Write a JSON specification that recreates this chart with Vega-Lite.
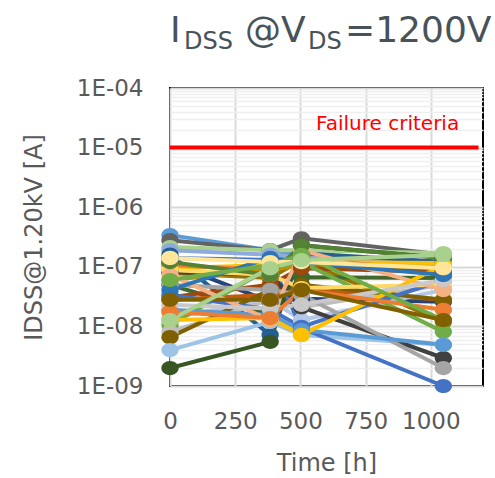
{
  "$schema": "https://vega.github.io/schema/vega-lite/v6.json",
  "autosize": "none",
  "width": 313,
  "height": 298,
  "padding": {"left": 170, "top": 88, "right": 12, "bottom": 92},
  "background": "white",
  "config": {
    "view": {"stroke": "#000000", "strokeWidth": 2},
    "font": "DejaVu Sans"
  },
  "data": {"values": [
    {"s":"S01","t":0,"v":3.4e-7},{"s":"S01","t":384,"v":1.9e-7},{"s":"S01","t":504,"v":1.6e-7},{"s":"S01","t":1048,"v":1.2e-7},
    {"s":"S02","t":0,"v":2.8e-7},{"s":"S02","t":384,"v":1.9e-7},{"s":"S02","t":504,"v":3.0e-7},{"s":"S02","t":1048,"v":1.6e-7},
    {"s":"S03","t":0,"v":2.15e-7},{"s":"S03","t":384,"v":1.9e-7},{"s":"S03","t":504,"v":1.9e-7},{"s":"S03","t":1048,"v":1.7e-7},
    {"s":"S04","t":0,"v":1.9e-7},{"s":"S04","t":384,"v":1.6e-7},{"s":"S04","t":504,"v":1.46e-7},{"s":"S04","t":1048,"v":1.07e-7},
    {"s":"S05","t":0,"v":1.6e-7},{"s":"S05","t":384,"v":7.2e-9},{"s":"S05","t":504,"v":1.7e-7},{"s":"S05","t":1048,"v":1.2e-7},
    {"s":"S06","t":0,"v":1.16e-7},{"s":"S06","t":384,"v":2.6e-8},{"s":"S06","t":504,"v":2.9e-8},{"s":"S06","t":1048,"v":2.6e-8},
    {"s":"S07","t":0,"v":9.5e-8},{"s":"S07","t":384,"v":1.07e-7},{"s":"S07","t":504,"v":1.2e-7},{"s":"S07","t":1048,"v":1.16e-7},
    {"s":"S08","t":0,"v":1.07e-7},{"s":"S08","t":384,"v":8.8e-8},{"s":"S08","t":504,"v":1.41e-7},{"s":"S08","t":1048,"v":8.2e-8},
    {"s":"S09","t":0,"v":7.9e-8},{"s":"S09","t":384,"v":6.5e-8},{"s":"S09","t":504,"v":1.3e-7},{"s":"S09","t":1048,"v":1.19e-8},
    {"s":"S10","t":0,"v":6.0e-8},{"s":"S10","t":384,"v":8.8e-8},{"s":"S10","t":504,"v":1.07e-7},{"s":"S10","t":1048,"v":8.8e-8},
    {"s":"S11","t":0,"v":5.0e-8},{"s":"S11","t":384,"v":1.55e-8},{"s":"S11","t":504,"v":6.7e-8},{"s":"S11","t":1048,"v":6.5e-8},
    {"s":"S12","t":0,"v":3.1e-8},{"s":"S12","t":384,"v":5.0e-8},{"s":"S12","t":504,"v":9.5e-8},{"s":"S12","t":1048,"v":8.2e-8},
    {"s":"S13","t":0,"v":2.8e-8},{"s":"S13","t":384,"v":3.4e-8},{"s":"S13","t":504,"v":4.1e-8},{"s":"S13","t":1048,"v":2.8e-8},
    {"s":"S14","t":0,"v":1.38e-8},{"s":"S14","t":384,"v":2.8e-8},{"s":"S14","t":504,"v":1.28e-8},{"s":"S14","t":1048,"v":4.1e-8},
    {"s":"S15","t":0,"v":1.06e-8},{"s":"S15","t":384,"v":9.5e-8},{"s":"S15","t":504,"v":1.2e-7},{"s":"S15","t":1048,"v":8.1e-9},
    {"s":"S16","t":0,"v":8.1e-9},{"s":"S16","t":384,"v":2.8e-8},{"s":"S16","t":504,"v":2.1e-8},{"s":"S16","t":1048,"v":5.0e-8},
    {"s":"S17","t":0,"v":6.6e-9},{"s":"S17","t":384,"v":4.1e-8},{"s":"S17","t":504,"v":5.0e-8},{"s":"S17","t":1048,"v":2.8e-8},
    {"s":"S18","t":0,"v":4.0e-9},{"s":"S18","t":384,"v":1.19e-8},{"s":"S18","t":504,"v":7.2e-9},{"s":"S18","t":1048,"v":4.9e-9},
    {"s":"S19","t":0,"v":2.0e-9},{"s":"S19","t":384,"v":5.5e-9},{"s":"S19","t":504,"v":2.3e-7},{"s":"S19","t":1048,"v":1.41e-7},
    {"s":"S20","t":0,"v":1.41e-7},{"s":"S20","t":384,"v":1.3e-7},{"s":"S20","t":504,"v":9.4e-9},{"s":"S20","t":1048,"v":1.0e-9},
    {"s":"S21","t":0,"v":3.4e-8},{"s":"S21","t":384,"v":1.9e-8},{"s":"S21","t":504,"v":9.8e-9},{"s":"S21","t":1048,"v":6.0e-8},
    {"s":"S22","t":0,"v":8.2e-8},{"s":"S22","t":384,"v":7.3e-8},{"s":"S22","t":504,"v":2.1e-8},{"s":"S22","t":1048,"v":2.95e-9},
    {"s":"S23","t":0,"v":5.0e-8},{"s":"S23","t":384,"v":4.1e-8},{"s":"S23","t":504,"v":3.4e-8},{"s":"S23","t":1048,"v":2.0e-9},
    {"s":"S24","t":0,"v":1.9e-8},{"s":"S24","t":384,"v":1.55e-8},{"s":"S24","t":504,"v":8.7e-9},{"s":"S24","t":1048,"v":4.9e-9},
    {"s":"S25","t":0,"v":8.8e-8},{"s":"S25","t":384,"v":7.3e-8},{"s":"S25","t":504,"v":4.4e-8},{"s":"S25","t":1048,"v":5.0e-8},
    {"s":"S26","t":0,"v":7.3e-8},{"s":"S26","t":384,"v":1.28e-8},{"s":"S26","t":504,"v":1.9e-7},{"s":"S26","t":1048,"v":4.1e-8},
    {"s":"S27","t":0,"v":1.2e-7},{"s":"S27","t":384,"v":7.3e-8},{"s":"S27","t":504,"v":2.3e-7},{"s":"S27","t":1048,"v":1.41e-7},
    {"s":"S28","t":0,"v":1.28e-8},{"s":"S28","t":384,"v":1.38e-8},{"s":"S28","t":504,"v":7.2e-9},{"s":"S28","t":1048,"v":1.07e-7},
    {"s":"S29","t":0,"v":2.3e-8},{"s":"S29","t":384,"v":2.0e-8},{"s":"S29","t":504,"v":2.3e-8},{"s":"S29","t":1048,"v":6.0e-8},
    {"s":"S30","t":0,"v":4.1e-8},{"s":"S30","t":384,"v":1.41e-7},{"s":"S30","t":504,"v":1.2e-7},{"s":"S30","t":1048,"v":7.3e-8},
    {"s":"S31","t":0,"v":1.75e-8},{"s":"S31","t":384,"v":1.38e-8},{"s":"S31","t":504,"v":4.1e-8},{"s":"S31","t":1048,"v":1.9e-8},
    {"s":"S32","t":0,"v":6.0e-8},{"s":"S32","t":384,"v":1.07e-7},{"s":"S32","t":504,"v":1.58e-7},{"s":"S32","t":1048,"v":1.28e-8},
    {"s":"S33","t":0,"v":2.8e-8},{"s":"S33","t":384,"v":2.8e-8},{"s":"S33","t":504,"v":4.1e-8},{"s":"S33","t":1048,"v":1.28e-8},
    {"s":"S34","t":0,"v":1.41e-7},{"s":"S34","t":384,"v":1.2e-7},{"s":"S34","t":504,"v":1.2e-7},{"s":"S34","t":1048,"v":9.5e-8},
    {"s":"S35","t":0,"v":1.28e-8},{"s":"S35","t":384,"v":9.5e-8},{"s":"S35","t":504,"v":1.3e-7},{"s":"S35","t":1048,"v":1.58e-7}
  ]},
  "layer": [
    {
      "mark": {
        "type": "line",
        "strokeWidth": 4,
        "point": {"filled": true, "opacity": 1, "size": 300, "shape": "M -1 0 A 1 0.82 0 1 1 1 0 A 1 0.82 0 1 1 -1 0 Z"}
      },
      "encoding": {
        "x": {
          "field": "t", "type": "quantitative",
          "scale": {"domain": [0, 1200], "nice": false},
          "axis": {
            "values": [0, 250, 500, 750, 1000],
            "format": "d",
            "title": "Time [h]",
            "grid": true, "gridColor": "#d9d9d9", "gridWidth": 2,
            "ticks": false, "domain": false,
            "labelFlush": false, "labelOverlap": false,
            "labelFont": "DejaVu Sans", "labelFontSize": 23, "labelColor": "#595959", "labelPadding": 24,
            "titleFont": "DejaVu Sans", "titleFontSize": 24, "titleFontWeight": "normal", "titleColor": "#595959", "titlePadding": 18
          }
        },
        "y": {
          "field": "v", "type": "quantitative",
          "scale": {"type": "log", "domain": [1e-9, 0.0001], "nice": false},
          "axis": {
            "values": [1e-9,2e-9,3e-9,4e-9,5e-9,6e-9,7e-9,8e-9,9e-9,1e-8,2e-8,3e-8,4e-8,5e-8,6e-8,7e-8,8e-8,9e-8,1e-7,2e-7,3e-7,4e-7,5e-7,6e-7,7e-7,8e-7,9e-7,1e-6,2e-6,3e-6,4e-6,5e-6,6e-6,7e-6,8e-6,9e-6,1e-5,2e-5,3e-5,4e-5,5e-5,6e-5,7e-5,8e-5,9e-5,0.0001],
            "labelExpr": "abs(log(datum.value)/LN10 - round(log(datum.value)/LN10)) < 0.01 ? '1E-0' + (-round(log(datum.value)/LN10)) : ''",
            "title": "IDSS@1.20kV [A]",
            "grid": true,
            "gridColor": {"condition": {"test": "abs(log(datum.value)/LN10 - round(log(datum.value)/LN10)) < 0.01", "value": "#d9d9d9"}, "value": "#efefef"},
            "gridWidth": {"condition": {"test": "abs(log(datum.value)/LN10 - round(log(datum.value)/LN10)) < 0.01", "value": 2}, "value": 1.5},
            "ticks": false, "domain": false,
            "labelOverlap": false, "labelFlush": false,
            "labelFont": "DejaVu Sans", "labelFontSize": 23, "labelColor": "#595959", "labelPadding": 27,
            "titleFont": "DejaVu Sans", "titleFontSize": 24, "titleFontWeight": "normal", "titleColor": "#595959", "titlePadding": 30
          }
        },
        "color": {
          "field": "s", "type": "nominal", "legend": null,
          "scale": {"range": ["#5B9BD5","#636363","#A9D18E","#8FAADC","#255E91","#264478","#FFC000","#ED7D31","#997300","#BF9000","#43682B","#9E480E","#C55A11","#B4C7E7","#70AD47","#BFBFBF","#7F6000","#9DC3E6","#375623","#4472C4","#4472C4","#404040","#A5A5A5","#5B9BD5","#FFD966","#F4B183","#548235","#FFC000","#C9C9C9","#2E75B6","#ED7D31","#70AD47","#806000","#FFE699","#A9D18E"]}
        }
      }
    },
    {
      "data": {"values": [{}]},
      "mark": {"type": "rule", "color": "#FF0000", "strokeWidth": 4},
      "encoding": {"x": {"datum": 0}, "x2": {"datum": 1183}, "y": {"datum": 1e-5}}
    },
    {
      "data": {"values": [{}]},
      "mark": {"type": "text", "text": "Failure criteria", "color": "#FF0000", "fontSize": 20, "font": "DejaVu Sans", "align": "left", "baseline": "alphabetic"},
      "encoding": {"x": {"datum": 560}, "y": {"datum": 2e-5}}
    },
    {
      "data": {"values": [{}]},
      "mark": {"type": "text", "text": "I", "color": "#475259", "fontSize": 36, "font": "DejaVu Sans", "align": "left", "baseline": "alphabetic", "dx": 0, "dy": -46},
      "encoding": {"x": {"datum": 0}, "y": {"datum": 0.0001}}
    },
    {
      "data": {"values": [{}]},
      "mark": {"type": "text", "text": "DSS", "color": "#475259", "fontSize": 24, "font": "DejaVu Sans", "align": "left", "baseline": "alphabetic", "dx": 14, "dy": -39},
      "encoding": {"x": {"datum": 0}, "y": {"datum": 0.0001}}
    },
    {
      "data": {"values": [{}]},
      "mark": {"type": "text", "text": "@V", "color": "#475259", "fontSize": 36, "font": "DejaVu Sans", "align": "left", "baseline": "alphabetic", "dx": 75, "dy": -46},
      "encoding": {"x": {"datum": 0}, "y": {"datum": 0.0001}}
    },
    {
      "data": {"values": [{}]},
      "mark": {"type": "text", "text": "DS", "color": "#475259", "fontSize": 24, "font": "DejaVu Sans", "align": "left", "baseline": "alphabetic", "dx": 138, "dy": -39},
      "encoding": {"x": {"datum": 0}, "y": {"datum": 0.0001}}
    },
    {
      "data": {"values": [{}]},
      "mark": {"type": "text", "text": "=1200V", "color": "#475259", "fontSize": 36, "font": "DejaVu Sans", "align": "left", "baseline": "alphabetic", "dx": 175, "dy": -46},
      "encoding": {"x": {"datum": 0}, "y": {"datum": 0.0001}}
    }
  ]
}
